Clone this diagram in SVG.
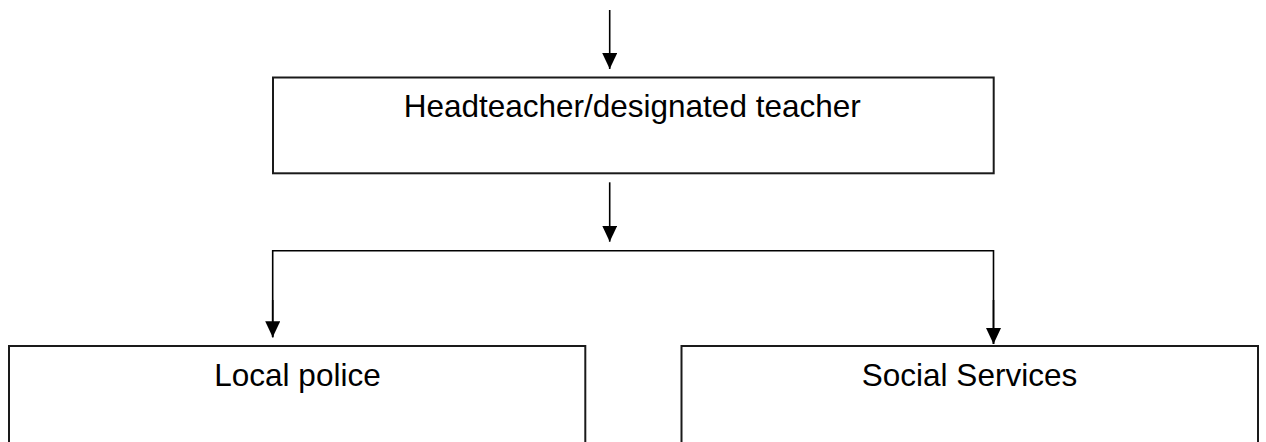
<svg xmlns="http://www.w3.org/2000/svg" width="1266" height="442" viewBox="0 0 1266 442">
<style>
.box{fill:#fff;stroke:#1a1a1a;stroke-width:2}
.lbl{font-family:"Liberation Sans",Arial,sans-serif;font-size:31.5px;fill:#000;text-anchor:middle}
.con{fill:none;stroke:#000;stroke-width:1.6}
</style>
<defs>
<marker id="ah" markerUnits="userSpaceOnUse" markerWidth="17" markerHeight="16" refX="16" refY="7.5" orient="auto">
<path d="M0,0 L16,7.5 L0,15 z" fill="#000"/>
</marker>
</defs>
<rect width="1266" height="442" fill="#fff"/>
<g id="connectors">
<line class="con" x1="609.7" y1="10" x2="609.7" y2="69" marker-end="url(#ah)"/>
<line class="con" x1="609.7" y1="182.3" x2="609.7" y2="241.7" marker-end="url(#ah)"/>
<polyline class="con" points="272.7,337.3 272.7,250.7 993.5,250.7 993.5,344"/>
<line class="con" x1="272.7" y1="300" x2="272.7" y2="337.3" marker-end="url(#ah)"/>
<line class="con" x1="993.5" y1="300" x2="993.5" y2="344" marker-end="url(#ah)"/>
</g>
<g id="node-headteacher">
<rect class="box" x="273" y="77.5" width="720.7" height="95.8"/>
<text class="lbl" x="632.2" y="117.3">Headteacher/designated teacher</text>
</g>
<g id="node-police">
<rect class="box" x="9" y="346" width="576.3" height="120"/>
<text class="lbl" x="297.5" y="385.7">Local police</text>
</g>
<g id="node-social">
<rect class="box" x="681.5" y="346" width="576.5" height="120"/>
<text class="lbl" x="969.5" y="385.7">Social Services</text>
</g>
</svg>
